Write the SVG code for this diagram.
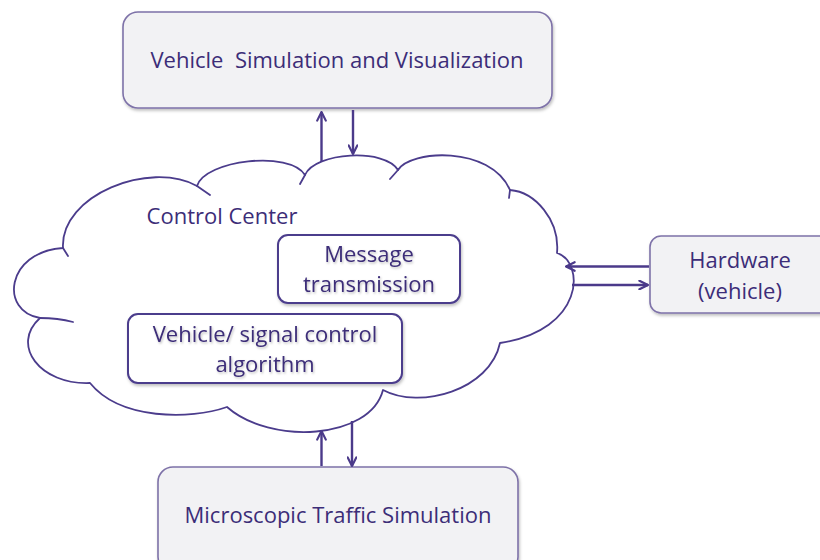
<svg xmlns="http://www.w3.org/2000/svg" width="820" height="560" viewBox="0 0 820 560">
  <defs>
    <style>
      .box { fill: #f2f2f4; stroke: #7e72a8; stroke-width: 1.6; }
      .inner { fill: #ffffff; stroke: #4b3c8c; stroke-width: 2; }
      .cloud { fill: #ffffff; stroke: #4b3c8c; stroke-width: 1.8; stroke-linejoin: round; }
      .tail { fill: none; stroke: #4b3c8c; stroke-width: 1.8; stroke-linecap: round; }
      .label { font-family: "Open Sans", Lato, sans-serif; font-size: 22px; fill: #3c2d78; text-anchor: middle; white-space: pre; }
      .conn { stroke: #4b3a8a; stroke-width: 2.4; fill: none; marker-end: url(#head); }
    </style>
    <marker id="head" viewBox="0 0 10 10" refX="9" refY="5" markerWidth="4.5" markerHeight="4.5" orient="auto" markerUnits="strokeWidth">
      <path d="M1,1 L9,5 L1,9" fill="none" stroke="#4b3a8a" stroke-width="2" stroke-linecap="round" stroke-linejoin="round"/>
    </marker>
    <filter id="shadow" x="-10%" y="-10%" width="120%" height="130%">
      <feDropShadow dx="1" dy="2" stdDeviation="1.5" flood-color="#000000" flood-opacity="0.25"/>
    </filter>
    <filter id="glow" x="-10%" y="-20%" width="120%" height="140%">
      <feDropShadow dx="1" dy="1.5" stdDeviation="1.2" flood-color="#000000" flood-opacity="0.25"/>
    </filter>
  </defs>

  <rect width="820" height="560" fill="#ffffff"/>

  <!-- Control Center cloud -->
  <g id="control-center">
    <path class="cloud" d="M40,318
      C0,312 5,252 63,248
      C60,195 150,160 197,186
      C205,160 290,150 305,175
      C315,152 385,148 398,170
      C410,150 490,145 510,190
      C535,192 560,220 557,253
      C585,262 585,330 500,343
      C490,390 420,410 383,390
      C370,440 270,445 227,407
      C190,420 120,420 90,383
      C40,385 10,345 40,318 Z"/>
    <path class="tail" d="M40,318 Q58,318 73,322 M63,248 L68,256 M197,186 L210,195 M305,175 L300,184 M398,170 L390,179 M510,190 L509,198"/>
    <text class="label" x="222" y="224">Control Center</text>

    <g id="message-transmission">
      <rect class="inner" x="278" y="235" width="182" height="68" rx="10" filter="url(#shadow)"/>
      <text class="label" x="369" y="262" filter="url(#glow)">Message</text>
      <text class="label" x="369" y="292" filter="url(#glow)">transmission</text>
    </g>

    <g id="control-algorithm">
      <rect class="inner" x="128" y="314" width="274" height="69" rx="10" filter="url(#shadow)"/>
      <text class="label" x="265" y="342" filter="url(#glow)">Vehicle/ signal control</text>
      <text class="label" x="265" y="372" filter="url(#glow)">algorithm</text>
    </g>
  </g>

  <!-- Vehicle Simulation and Visualization -->
  <g id="vehicle-simulation">
    <rect class="box" x="123" y="12" width="429" height="96" rx="15" filter="url(#shadow)"/>
    <text class="label" x="337" y="68">Vehicle  Simulation and Visualization</text>
  </g>

  <!-- Hardware (vehicle) -->
  <g id="hardware">
    <rect class="box" x="650" y="236" width="185" height="77" rx="11" filter="url(#shadow)"/>
    <text class="label" x="740" y="268">Hardware</text>
    <text class="label" x="740" y="299">(vehicle)</text>
  </g>

  <!-- Microscopic Traffic Simulation -->
  <g id="traffic-simulation">
    <rect class="box" x="158" y="467" width="360" height="105" rx="15" filter="url(#shadow)"/>
    <text class="label" x="338" y="523">Microscopic Traffic Simulation</text>
  </g>

  <!-- Connectors -->
  <g id="connectors">
    <line class="conn" x1="321.5" y1="162" x2="321.5" y2="112"/>
    <line class="conn" x1="353" y1="110" x2="353" y2="154"/>
    <line class="conn" x1="321.5" y1="466" x2="321.5" y2="431"/>
    <line class="conn" x1="352" y1="421" x2="352" y2="466"/>
    <line class="conn" x1="649" y1="266.5" x2="566" y2="266.5"/>
    <line class="conn" x1="572" y1="285" x2="648" y2="285"/>
  </g>
</svg>
